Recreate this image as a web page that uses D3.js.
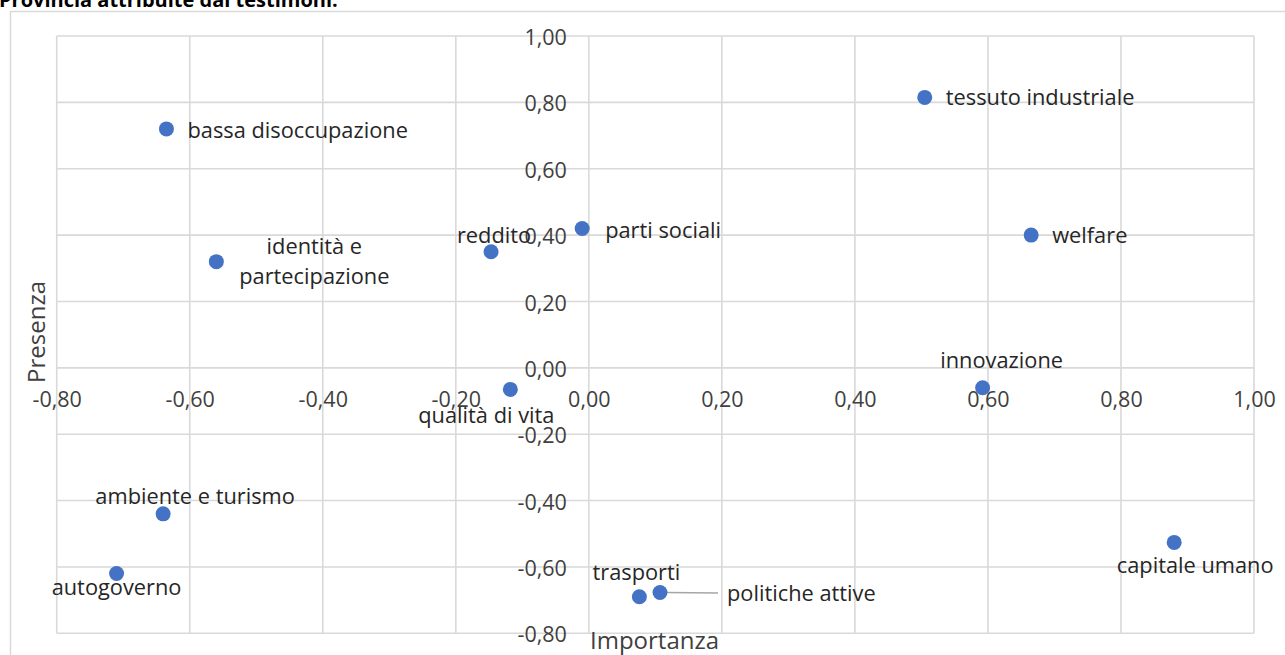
<!DOCTYPE html>
<html lang="it">
<head>
<meta charset="utf-8">
<script src="https://cdn.jsdelivr.net/npm/d3@7/dist/d3.min.js"></script>
<style>
  html, body { margin: 0; padding: 0; background: #fff; }
  svg { display: block; }
  text { font-family: "Open Sans", "Noto Sans", sans-serif; fill: #262626; }
</style>
</head>
<body>
<svg id="chart" width="1285" height="655"></svg>
<script>
// Fattori: importanza (asse x) e presenza (asse y)
const factors = [
  "bassa disoccupazione", "tessuto industriale", "welfare", "parti sociali",
  "reddito", "identità e partecipazione", "qualità di vita", "innovazione",
  "ambiente e turismo", "autogoverno", "trasporti", "politiche attive",
  "capitale umano"
];
const importanza = [-0.635, 0.505, 0.665, -0.01, -0.147, -0.56, -0.118, 0.592, -0.64, -0.71, 0.076, 0.107, 0.88];
const presenza   = [0.72, 0.815, 0.40, 0.42, 0.35, 0.32, -0.065, -0.06, -0.44, -0.62, -0.69, -0.677, -0.526];

const xTicks = [-0.8, -0.6, -0.4, -0.2, 0, 0.2, 0.4, 0.6, 0.8, 1.0];
const yTicks = [-0.8, -0.6, -0.4, -0.2, 0, 0.2, 0.4, 0.6, 0.8, 1.0];

const titleText = "Provincia attribuite dai testimoni.";
const xTitle = "Importanza";
const yTitle = "Presenza";

// Formato italiano con virgola decimale
const it = d3.formatLocale({ decimal: ",", thousands: ".", grouping: [3], currency: ["", " €"], minus: "-" });
const fmt = it.format(".2f");

const svg = d3.select("#chart");

const x = d3.scaleLinear().domain([-0.8, 1.0]).range([56.7, 1254]);
const y = d3.scaleLinear().domain([-0.8, 1.0]).range([633.3, 36]);

// Titolo (parzialmente fuori dal riquadro superiore)
svg.append("text")
  .attr("x", -1).attr("y", 7)
  .style("font-weight", "700").style("font-size", "20px").style("fill", "#000")
  .text(titleText);

// Bordo dell'area grafico
svg.append("rect")
  .attr("x", 10.5).attr("y", 11.5).attr("width", 1300).attr("height", 700)
  .attr("fill", "none").attr("stroke", "#d9d9d9").attr("stroke-width", 1.5);

// Griglia
const grid = svg.append("g").attr("stroke", "#d9d9d9").attr("stroke-width", 1.6);
grid.selectAll("line.v").data(xTicks).join("line")
  .attr("x1", d => x(d)).attr("x2", d => x(d))
  .attr("y1", y(1.0)).attr("y2", y(-0.8));
grid.selectAll("line.h").data(yTicks).join("line")
  .attr("y1", d => y(d)).attr("y2", d => y(d))
  .attr("x1", x(-0.8)).attr("x2", x(1.0));

// Asse orizzontale: etichette sotto la linea dello zero
const xAxis = svg.append("g")
  .attr("transform", `translate(0,${y(0)})`)
  .call(d3.axisBottom(x).tickValues(xTicks).tickFormat(fmt).tickSize(0));
xAxis.select(".domain").remove();
xAxis.selectAll("text")
  .attr("y", 32).attr("dy", "0.35em")
  .style("font-family", "'Open Sans', sans-serif").style("font-size", "21.5px").style("fill", "#404040");

// Asse verticale: etichette a sinistra della linea dello zero
const yAxis = svg.append("g")
  .attr("transform", `translate(${x(0)},0)`)
  .call(d3.axisLeft(y).tickValues(yTicks).tickFormat(fmt).tickSize(0).tickPadding(22));
yAxis.select(".domain").remove();
yAxis.selectAll("text")
  .attr("dy", "0.4em")
  .style("font-family", "'Open Sans', sans-serif").style("font-size", "21.5px").style("fill", "#404040");

// Titoli degli assi
svg.append("text")
  .attr("x", 590).attr("y", 649)
  .style("font-size", "24px").style("fill", "#404040")
  .text(xTitle);
svg.append("text")
  .attr("transform", "translate(45,332) rotate(-90)")
  .attr("text-anchor", "middle")
  .style("font-size", "24px").style("fill", "#404040")
  .text(yTitle);

const points = factors.map((name, i) => ({ name, ix: importanza[i], pr: presenza[i] }));

// Posizione delle etichette rispetto al punto
const labelLayout = {
  "bassa disoccupazione":      { anchor: "start",  dx: 21,    dy: 9 },
  "tessuto industriale":       { anchor: "start",  dx: 21,    dy: 8 },
  "welfare":                   { anchor: "start",  dx: 21,    dy: 8 },
  "parti sociali":             { anchor: "start",  dx: 23,    dy: 10 },
  "reddito":                   { anchor: "middle", dx: 3,     dy: -9 },
  "identità e partecipazione": { anchor: "middle", dx: 98,    dy: -8, lines: ["identità e", "partecipazione"] },
  "qualità di vita":           { anchor: "middle", dx: -24,   dy: 34 },
  "innovazione":               { anchor: "middle", dx: 19,    dy: -20 },
  "ambiente e turismo":        { anchor: "middle", dx: 32,    dy: -10 },
  "autogoverno":               { anchor: "middle", dx: 0,     dy: 21 },
  "trasporti":                 { anchor: "middle", dx: -3,    dy: -17 },
  "politiche attive":          { anchor: "start",  dx: 67,    dy: 9, leader: true },
  "capitale umano":            { anchor: "middle", dx: 21,    dy: 31 }
};

// Linea guida per l'etichetta spostata
points.filter(p => labelLayout[p.name].leader).forEach(p => {
  svg.append("line")
    .attr("x1", x(p.ix) + 6).attr("y1", y(p.pr))
    .attr("x2", x(p.ix) + 58).attr("y2", y(p.pr) + 0.5)
    .attr("stroke", "#a6a6a6").attr("stroke-width", 1.5);
});

// Punti
svg.append("g").selectAll("circle").data(points).join("circle")
  .attr("cx", d => x(d.ix)).attr("cy", d => y(d.pr))
  .attr("r", 7.5).attr("fill", "#4472C4");

// Etichette dei punti
const labels = svg.append("g").style("font-size", "21.8px");
points.forEach(p => {
  const L = labelLayout[p.name];
  const t = labels.append("text")
    .attr("x", x(p.ix) + L.dx).attr("y", y(p.pr) + L.dy)
    .attr("text-anchor", L.anchor);
  if (L.lines) {
    L.lines.forEach((ln, k) => {
      t.append("tspan").attr("x", x(p.ix) + L.dx).attr("dy", k === 0 ? 0 : 30).text(ln);
    });
  } else {
    t.text(p.name);
  }
});
</script>
</body>
</html>
